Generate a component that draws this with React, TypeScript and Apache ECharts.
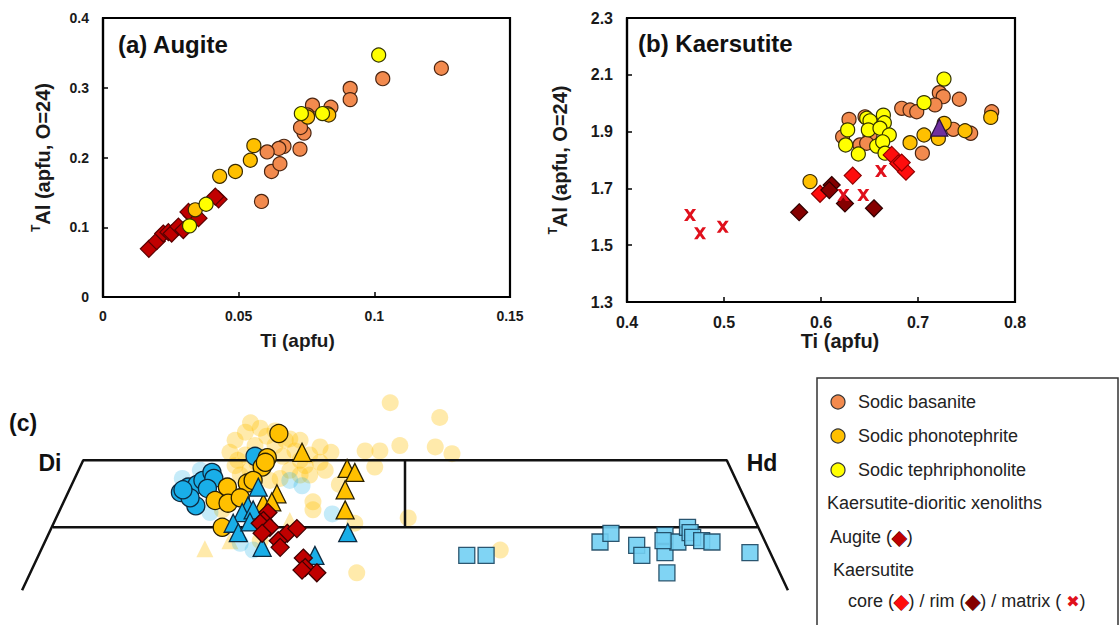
import React, { useEffect, useRef } from "react";
import * as echarts from "echarts";

const FONT = '"Liberation Sans", Arial, Helvetica, sans-serif';

// ---------- (a) Augite: [Ti, TAl] ----------
const augBasanite = [[0.1247,0.328],[0.1031,0.313],[0.0911,0.299],[0.0911,0.283],[0.0840,0.272],[0.0827,0.263],[0.0772,0.275],[0.0741,0.235],[0.0728,0.243],[0.0726,0.212],[0.0667,0.216],[0.0648,0.213],[0.0605,0.208],[0.0621,0.180],[0.0652,0.191],[0.0584,0.137],[0.0753,0.261]];
const augPhonotephrite = [[0.0556,0.217],[0.0543,0.196],[0.0488,0.180],[0.0430,0.173],[0.0340,0.125],[0.0754,0.258],[0.0832,0.261]];
const augTephriphonolite = [[0.1016,0.347],[0.0731,0.263],[0.0809,0.263],[0.0380,0.133],[0.0319,0.102]];
const augXenolith = [[0.0169,0.069],[0.0198,0.080],[0.0222,0.091],[0.0241,0.093],[0.0253,0.091],[0.0278,0.101],[0.0296,0.096],[0.0327,0.117],[0.0352,0.113],[0.0426,0.140],[0.0414,0.144],[0.0315,0.122]];

// ---------- (b) Kaersutite: [Ti, TAl] ----------
const kaeBasanite = [[0.722,2.037],[0.726,2.023],[0.7426,2.014],[0.6832,1.982],[0.6918,1.976],[0.6987,1.970],[0.7175,1.994],[0.776,1.970],[0.7364,1.908],[0.7543,1.894],[0.7045,1.824],[0.6289,1.943],[0.6223,1.882],[0.6402,1.853],[0.6505,1.888],[0.6471,1.859],[0.6454,1.952]];
const kaePhonotephrite = [[0.775,1.950],[0.727,1.929],[0.7485,1.903],[0.7062,1.888],[0.7210,1.876],[0.6918,1.861],[0.5887,1.724]];
const kaeTephriphonolite = [[0.7268,2.085],[0.7062,2.002],[0.6275,1.906],[0.6254,1.853],[0.6385,1.821],[0.6471,1.947],[0.6505,1.938],[0.6488,1.906],[0.6574,1.849],[0.6643,1.958],[0.6653,1.931],[0.6608,1.912],[0.6704,1.888],[0.6636,1.864],[0.6660,1.824]];
const kaeCore = [[0.6729,1.818],[0.6797,1.788],[0.6876,1.759],[0.6832,1.791],[0.6327,1.745],[0.599,1.681]];
const kaeRim = [[0.611,1.712],[0.6086,1.694],[0.6247,1.647],[0.6546,1.630],[0.5775,1.616]];
const kaeMatrix = [[0.465,1.606],[0.4753,1.542],[0.4987,1.565],[0.6619,1.761],[0.623,1.677],[0.6436,1.677]];
const kaeOther = [[0.722,1.914]];

// tick values
const ticksAX = [0, 0.05, 0.1, 0.15];
const ticksAY = [0, 0.1, 0.2, 0.3, 0.4];
const ticksBX = [0.4, 0.5, 0.6, 0.7, 0.8];
const ticksBY = [1.3, 1.5, 1.7, 1.9, 2.1, 2.3];

// ---------- (c) Pyroxene quadrilateral: [position Di->Hd (%), Wo] ----------
const quadOuter = [[-9.5,40.3],[0,50],[100,50],[109.5,40.3]];
const quadMid = [[-4.7,45],[104.8,45]];
const quadDivider = [[50,50],[50,45]];
const paleGoldCircles = [[47.7,54.3],[55.4,53.2],[49.2,51.1],[43.8,50.7],[46.1,50.7],[45.3,49.5],[54.7,51.0],[57.3,50.5],[35.7,46.9],[50.5,45.7],[42.2,45.3],[42.5,41.6],[64.8,43.3],[32.1,51.6],[23.6,51.5],[25.2,52.1],[26.7,51.1],[29.8,51.1],[31.4,51.5],[32.9,50.7],[33.7,50.0],[35.2,50.4],[36.8,49.85],[25.2,50.4],[23.6,49.6],[25.9,49.25],[32.1,49.25],[33.7,48.9],[30.6,48.65],[35.2,48.9],[36.8,51.0],[37.6,49.25],[22.8,50.6],[27.5,52.4],[29.8,52.2],[33.7,51.5],[24.4,48.9],[29.0,48.5],[35.7,46.3],[27.5,44.0],[21.6,46.3],[26.0,52.8],[28.5,51.8],[31.0,50.3],[34.5,49.6],[38.5,50.6],[39.8,48.2],[24.0,50.0],[27.0,49.8]];
const paleGoldTriangles = [[18.9,43.4],[22.8,44.0],[32.1,45.5]];
const paleBlueCircles = [[15.4,48.65],[19.7,46.1],[32.1,48.5],[34.0,48.1],[38.7,46.0],[24.4,43.8],[26.4,43.3],[18.2,49.25]];
const blueCircles = [[15.1,47.6],[16.3,48.0],[17.7,48.2],[18.6,48.5],[20.0,49.1],[20.3,48.65],[17.5,46.6],[16.6,47.2],[19.3,47.9],[26.7,50.3],[15.5,47.8]];
const goldCircles = [[30.4,52.0],[28.6,50.2],[27.8,49.5],[28.3,49.85],[25.5,48.3],[22.4,48.0],[20.5,47.0],[22.5,46.8],[24.4,47.2],[21.6,45.0],[26.4,48.5]];
const goldTriangles = [[34.0,50.6],[41.0,49.4],[42.2,49.1],[40.7,47.8],[40.7,46.3],[30.1,47.5],[28.0,46.8],[29.3,46.9]];
const blueTriangles = [[27.2,48.0],[25.6,46.6],[24.7,46.1],[26.4,46.3],[23.3,45.3],[24.1,44.6],[25.9,45.4],[27.8,43.5],[41.1,44.6],[36.0,42.9]];
const redDiamonds = [[28.7,46.1],[28.0,45.5],[27.5,45.3],[29.0,45.0],[27.8,44.55],[31.7,44.55],[33.2,44.9],[30.3,44.0],[30.6,43.5],[34.2,42.7],[34.5,42.0],[36.3,41.6],[34.0,41.8]];
const blueSquares = [[59.6,42.9],[62.6,42.9],[80.3,43.9],[82.0,44.55],[86.0,43.65],[86.8,42.9],[90.4,44.4],[90.4,43.1],[90.7,41.6],[92.4,43.9],[93.9,45.0],[94.3,44.6],[94.7,44.25],[96.1,44.0],[97.7,43.9],[103.6,43.1],[90.1,44.0]];

const legendRows = ["Sodic basanite", "Sodic phonotephrite", "Sodic tephriphonolite"];

const C_BAS = "#F28A4E";
const C_PHO = "#FFC000";
const C_TEP = "#FFFF00";
const C_AUG = "#C00000";
const C_CORE = "#FF0D0D";
const C_RIM = "#850000";
const C_MAT = "#E0101C";
const C_BLUE = "#19AEE8";
const C_SQ = "#72CFF3";

const xMark = "path://M0,0L3.5,0L6,3.5L8.5,0L12,0L7.8,6L12,12L8.5,12L6,8.5L3.5,12L0,12L4.2,6Z";

function sc(data: number[][], idx: number, symbol: string, size: number, color: string, border: string, bw = 1.2, z = 3, opacity = 1) {
  return {
    type: "scatter",
    xAxisIndex: idx,
    yAxisIndex: idx,
    data,
    symbol,
    symbolSize: size,
    z,
    itemStyle: { color, borderColor: border, borderWidth: bw, opacity },
    emphasis: { disabled: true },
  };
}

function lineS(data: number[][]) {
  return {
    type: "line",
    xAxisIndex: 2,
    yAxisIndex: 2,
    data,
    symbol: "none",
    z: 1,
    lineStyle: { color: "#111", width: 2.5 },
    emphasis: { disabled: true },
  };
}

function axis(fs: number, nameFs: number, ticks: number[], margin: number) {
  return {
    axisLine: { show: true, onZero: false, lineStyle: { color: "#000", width: 2.2 } },
    axisTick: { show: true, inside: true, length: 5, customValues: ticks, lineStyle: { color: "#000", width: 1.5 } },
    splitLine: { show: false },
    axisLabel: { color: "#1a1a1a", fontWeight: "bold", fontSize: fs, fontFamily: FONT, margin, customValues: ticks },
    nameTextStyle: {
      color: "#1a1a1a", fontWeight: "bold", fontFamily: FONT, fontSize: nameFs,
      rich: { s: { fontSize: Math.round(nameFs * 0.62), fontWeight: "bold", fontFamily: FONT, color: "#1a1a1a", verticalAlign: "top", lineHeight: nameFs + 5 } },
    },
  };
}

export default function App() {
  const ref = useRef<HTMLDivElement>(null);
  useEffect(() => {
    if (!ref.current) return;
    const chart = echarts.init(ref.current, null, { renderer: "svg" });
    const yName = "{s|T}Al (apfu, O=24)";
    const ax = axis(14, 19, ticksAX, 12);
    const ay = axis(14, 20, ticksAY, 14);
    const bx = axis(16, 20, ticksBX, 12);
    const by = axis(16, 20, ticksBY, 14);
    const option: any = {
      animation: false,
      backgroundColor: "#fff",
      grid: [
        { left: 103, top: 18, width: 407, height: 279, show: true, borderColor: "#000", borderWidth: 2.2, containLabel: false },
        { left: 627, top: 18, width: 388, height: 284, show: true, borderColor: "#000", borderWidth: 2.2, containLabel: false },
        { left: 6, top: 380, width: 798, height: 241, show: false, containLabel: false },
      ],
      xAxis: [
        { ...ax, gridIndex: 0, type: "value", min: 0, max: 0.15, interval: 0.05, name: "Ti (apfu)", nameLocation: "middle", nameGap: 34,
          nameTextStyle: { ...ax.nameTextStyle, padding: [0, 18, 0, 0] } },
        { ...bx, gridIndex: 1, type: "value", min: 0.4, max: 0.8, interval: 0.1, name: "Ti (apfu)", nameLocation: "middle", nameGap: 22,
          nameTextStyle: { ...bx.nameTextStyle, padding: [0, 0, 0, 38] } },
        { gridIndex: 2, type: "value", min: -12, max: 112, show: false },
      ],
      yAxis: [
        { ...ay, gridIndex: 0, type: "value", min: 0, max: 0.4, interval: 0.1, name: yName, nameLocation: "middle", nameGap: 48, nameRotate: 90 },
        { ...by, gridIndex: 1, type: "value", min: 1.3, max: 2.3, interval: 0.1, name: yName, nameLocation: "middle", nameGap: 55, nameRotate: 90 },
        { gridIndex: 2, type: "value", min: 38, max: 56, show: false },
      ],
      series: [
        // (a)
        sc(augXenolith, 0, "diamond", 17, C_AUG, "#5a0000", 1.2, 3),
        sc(augBasanite, 0, "circle", 14, C_BAS, "#4a2410", 1.2, 4),
        sc(augPhonotephrite, 0, "circle", 14, C_PHO, "#3a2a00", 1.2, 4),
        sc(augTephriphonolite, 0, "circle", 14, C_TEP, "#333300", 1.2, 5),
        // (b)
        sc(kaeBasanite, 1, "circle", 14, C_BAS, "#4a2410", 1.2, 3),
        sc(kaePhonotephrite, 1, "circle", 14, C_PHO, "#3a2a00", 1.2, 4),
        sc(kaeTephriphonolite, 1, "circle", 14, C_TEP, "#333300", 1.2, 5),
        sc(kaeOther, 1, "triangle", 17, "#7030A0", "#2a1040", 1.2, 6),
        sc(kaeCore, 1, "diamond", 17, C_CORE, "#900000", 1.2, 6),
        sc(kaeRim, 1, "diamond", 17, C_RIM, "#300000", 1.2, 6),
        sc(kaeMatrix, 1, xMark, 12, C_MAT, C_MAT, 0, 7),
        // (c)
        lineS(quadOuter),
        lineS(quadMid),
        lineS(quadDivider),
        sc(paleGoldCircles, 2, "circle", 17, C_PHO, C_PHO, 0, 0, 0.33),
        sc(paleGoldTriangles, 2, "triangle", 17, C_PHO, C_PHO, 0, 0, 0.33),
        sc(paleBlueCircles, 2, "circle", 17, C_BLUE, C_BLUE, 0, 0, 0.25),
        sc(blueCircles, 2, "circle", 18, C_BLUE, "#0d2a40", 1.3, 3),
        sc(goldCircles, 2, "circle", 18, C_PHO, "#2a2000", 1.3, 4),
        sc(goldTriangles, 2, "triangle", 18, C_PHO, "#2a2000", 1.3, 5),
        sc(blueTriangles, 2, "triangle", 18, C_BLUE, "#0d2a40", 1.3, 5),
        sc(redDiamonds, 2, "diamond", 18, C_AUG, "#400000", 1.3, 6),
        sc(blueSquares, 2, "rect", 16, C_SQ, "#1b4660", 1.3, 6, 0.9),
      ],
      graphic: [
        { type: "text", x: 118, y: 44, z: 10, style: { text: "(a) Augite", font: `bold 24px ${FONT}`, fill: "#111", align: "left", verticalAlign: "middle" } },
        { type: "text", x: 638, y: 43, z: 10, style: { text: "(b) Kaersutite", font: `bold 24px ${FONT}`, fill: "#111", align: "left", verticalAlign: "middle" } },
        { type: "text", x: 9, y: 423, z: 10, style: { text: "(c)", font: `bold 23px ${FONT}`, fill: "#111", align: "left", verticalAlign: "middle" } },
        { type: "text", x: 50, y: 463, z: 10, style: { text: "Di", font: `bold 23px ${FONT}`, fill: "#111", align: "center", verticalAlign: "middle" } },
        { type: "text", x: 762, y: 463, z: 10, style: { text: "Hd", font: `bold 23px ${FONT}`, fill: "#111", align: "center", verticalAlign: "middle" } },
        { type: "rect", z: 10, shape: { x: 817, y: 378, width: 301, height: 252 }, style: { fill: "#fff", stroke: "#333", lineWidth: 1.5 } },
        ...legendRows.map((t, i) => ({
          type: "group", z: 11,
          children: [
            { type: "circle", shape: { cx: 838, cy: [402, 436, 470][i], r: 7 }, style: { fill: [C_BAS, C_PHO, C_TEP][i], stroke: "#333", lineWidth: 1.2 }, z: 11 },
            { type: "text", x: 858, y: [402, 436, 470][i], z: 11, style: { text: t, font: `18px ${FONT}`, fill: "#222", align: "left", verticalAlign: "middle" } },
          ],
        })),
        { type: "text", x: 827, y: 503, z: 11, style: { text: "Kaersutite-dioritic xenoliths", font: `18px ${FONT}`, fill: "#222", align: "left", verticalAlign: "middle" } },
        { type: "text", x: 830, y: 537, z: 11, style: {
          text: "Augite ({d|◆})", font: `18px ${FONT}`, fill: "#222", align: "left", verticalAlign: "middle",
          rich: { d: { fill: C_AUG, stroke: "#400000", lineWidth: 1, fontSize: 19, fontFamily: "DejaVu Sans" } } } },
        { type: "text", x: 833, y: 570, z: 11, style: { text: "Kaersutite", font: `18px ${FONT}`, fill: "#222", align: "left", verticalAlign: "middle" } },
        { type: "text", x: 848, y: 601, z: 11, style: {
          text: "core ({c|◆}) / rim ({r|◆}) / matrix ( {m|✖})", font: `18px ${FONT}`, fill: "#222", align: "left", verticalAlign: "middle",
          rich: {
            c: { fill: C_CORE, stroke: "#900000", lineWidth: 1, fontSize: 19, fontFamily: "DejaVu Sans" },
            r: { fill: C_RIM, stroke: "#300000", lineWidth: 1, fontSize: 19, fontFamily: "DejaVu Sans" },
            m: { fill: C_MAT, fontSize: 16, fontFamily: "DejaVu Sans" },
          } } },
      ],
    };
    chart.setOption(option);
    return () => chart.dispose();
  }, []);
  return <div ref={ref} style={{ position: "fixed", left: 0, top: 0, width: 1119, height: 625 }} />;
}
